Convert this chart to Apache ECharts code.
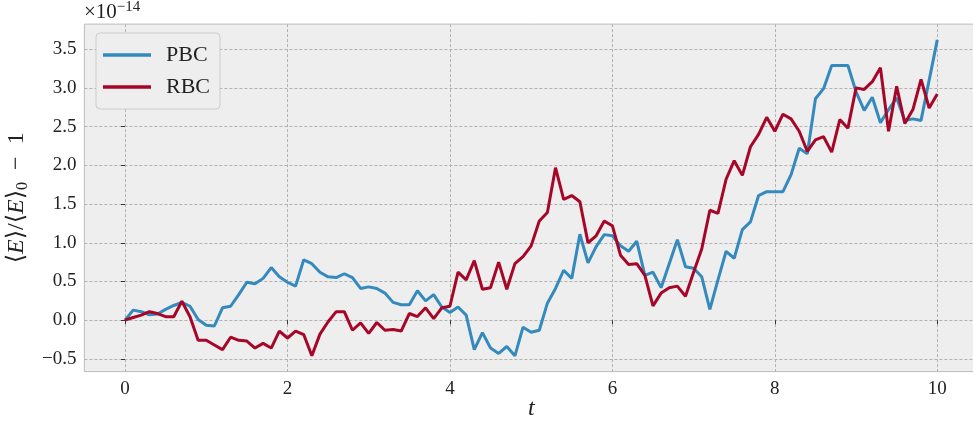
<!DOCTYPE html>
<html>
<head>
<meta charset="utf-8">
<script src="https://cdn.jsdelivr.net/npm/echarts@6/dist/echarts.min.js"></script>
<style>
  html, body { margin: 0; padding: 0; background: #fff; }
  #chart { width: 973px; height: 421px; }
</style>
</head>
<body>
<div id="chart"></div>
<script>
// time grid, t = 0 ... 10
var t = [
  0.0, 0.1, 0.2, 0.3, 0.4, 0.5, 0.6, 0.7, 0.8, 0.9,
  1.0, 1.1, 1.2, 1.3, 1.4, 1.5, 1.6, 1.7, 1.8, 1.9,
  2.0, 2.1, 2.2, 2.3, 2.4, 2.5, 2.6, 2.7, 2.8, 2.9,
  3.0, 3.1, 3.2, 3.3, 3.4, 3.5, 3.6, 3.7, 3.8, 3.9,
  4.0, 4.1, 4.2, 4.3, 4.4, 4.5, 4.6, 4.7, 4.8, 4.9,
  5.0, 5.1, 5.2, 5.3, 5.4, 5.5, 5.6, 5.7, 5.8, 5.9,
  6.0, 6.1, 6.2, 6.3, 6.4, 6.5, 6.6, 6.7, 6.8, 6.9,
  7.0, 7.1, 7.2, 7.3, 7.4, 7.5, 7.6, 7.7, 7.8, 7.9,
  8.0, 8.1, 8.2, 8.3, 8.4, 8.5, 8.6, 8.7, 8.8, 8.9,
  9.0, 9.1, 9.2, 9.3, 9.4, 9.5, 9.6, 9.7, 9.8, 9.9,
  10.0
]

// relative energy drift, in units of 1e-14
var pbc = [
  0, 0.13, 0.11, 0.07, 0.08, 0.14, 0.19, 0.23, 0.18, 0.01,
  -0.065, -0.075, 0.16, 0.18, 0.33, 0.49, 0.47, 0.54, 0.68, 0.56,
  0.49, 0.44, 0.78, 0.73, 0.62, 0.56, 0.55, 0.60, 0.55, 0.41,
  0.43, 0.41, 0.35, 0.23, 0.20, 0.20, 0.38, 0.25, 0.33, 0.17,
  0.10, 0.17, 0.065, -0.38, -0.16, -0.36, -0.43, -0.34, -0.46, -0.09,
  -0.155, -0.13, 0.22, 0.41, 0.645, 0.54, 1.11, 0.74, 0.95, 1.105,
  1.09, 0.96, 0.89, 1.02, 0.58, 0.62, 0.42, 0.73, 1.04, 0.69,
  0.67, 0.56, 0.14, 0.52, 0.89, 0.80, 1.17, 1.27, 1.61, 1.66,
  1.66, 1.66, 1.88, 2.22, 2.15, 2.86, 2.99, 3.29, 3.29, 3.29,
  2.95, 2.71, 2.88, 2.55, 2.72, 2.87, 2.58, 2.60, 2.58, 3.10,
  3.62
]

var rbc = [
  0, 0.035, 0.065, 0.11, 0.086, 0.045, 0.045, 0.245, 0.045, -0.26,
  -0.26, -0.32, -0.38, -0.22, -0.26, -0.27, -0.36, -0.30, -0.36, -0.14,
  -0.23, -0.14, -0.185, -0.46, -0.18, -0.02, 0.11, 0.11, -0.13, -0.035,
  -0.17, -0.03, -0.13, -0.12, -0.14, 0.086, 0.047, 0.16, 0.02, 0.16,
  0.18, 0.62, 0.52, 0.77, 0.40, 0.42, 0.75, 0.40, 0.73, 0.82,
  0.96, 1.28, 1.39, 1.97, 1.56, 1.61, 1.53, 1.00, 1.09, 1.28,
  1.22, 0.84, 0.72, 0.73, 0.58, 0.185, 0.35, 0.42, 0.44, 0.31,
  0.62, 0.92, 1.42, 1.38, 1.82, 2.06, 1.87, 2.24, 2.40, 2.62,
  2.44, 2.66, 2.60, 2.44, 2.18, 2.33, 2.37, 2.17, 2.59, 2.48,
  3.00, 2.98, 3.08, 3.26, 2.44, 3.02, 2.54, 2.72, 3.11, 2.74,
  2.92
]

var xTicks = [0, 2, 4, 6, 8, 10]
var yTicks = [-0.5, 0, 0.5, 1, 1.5, 2, 2.5, 3, 3.5]

var serif = '"Liberation Serif", "DejaVu Serif", serif'

function pairs (ys) {
  return t.map(function (v, i) { return [v, ys[i]] })
}

var chart = echarts.init(document.getElementById('chart'))

chart.setOption({
  animation: false,
  textStyle: { fontFamily: serif, color: '#222' },
  grid: {
    left: 84.4,
    right: -4.9,
    top: 24.1,
    bottom: 49.4,
    containLabel: false,
    outerBoundsMode: 'none',
    show: true,
    backgroundColor: '#eeeeee',
    borderColor: '#bcbcbc',
    borderWidth: 1
  },
  xAxis: {
    type: 'value',
    min: -0.5,
    max: 10.5,
    splitNumber: 5,
    axisLine: { show: false },
    axisTick: { show: true, customValues: xTicks, length: 4, inside: false, lineStyle: { color: '#333', width: 1 } },
    axisLabel: {
      customValues: xTicks,
      margin: 8,
      fontFamily: serif,
      fontSize: 19,
      color: '#222'
    },
    splitLine: { show: true, lineStyle: { color: '#b2b2b2', type: [3, 2], width: 1 } }
  },
  yAxis: {
    type: 'value',
    min: -0.664,
    max: 3.824,
    splitNumber: 9,
    name: '{n|⟨}{i|E}{n|⟩/⟨}{i|E}{n|⟩}{s|0}{n|  −  1}',
    nameLocation: 'middle',
    nameGap: 52,
    nameTextStyle: {
      fontFamily: serif,
      fontSize: 24,
      color: '#222',
      rich: {
        n: { fontFamily: serif, fontSize: 24, color: '#222' },
        i: { fontFamily: serif, fontSize: 24, fontStyle: 'italic', color: '#222' },
        s: { fontFamily: serif, fontSize: 16, color: '#222', padding: [12, 0, 0, 0] }
      }
    },
    axisLine: { show: false },
    axisTick: { show: true, customValues: yTicks, length: 4, inside: false, lineStyle: { color: '#333', width: 1 } },
    axisLabel: {
      customValues: yTicks,
      margin: 8,
      fontFamily: serif,
      fontSize: 19,
      color: '#222',
      formatter: function (v) {
        var s = v.toFixed(1)
        return v < 0 ? '−' + s.slice(1) : s
      }
    },
    splitLine: { show: true, lineStyle: { color: '#b2b2b2', type: [3, 2], width: 1 } }
  },
  legend: {
    orient: 'vertical',
    left: 96,
    top: 33,
    padding: [11, 10, 11, 7],
    itemGap: 10,
    itemWidth: 48,
    itemHeight: 3.5,
    icon: 'rect',
    backgroundColor: '#eeeeee',
    borderColor: '#cccccc',
    borderWidth: 1,
    borderRadius: 4,
    textStyle: { fontFamily: serif, fontSize: 22, color: '#222', padding: [0, 0, 0, 10] },
    data: ['PBC', 'RBC']
  },
  graphic: [
    {
      type: 'text',
      left: 84,
      top: 0,
      style: {
        text: '×10{sup|−14}',
        fontFamily: serif,
        fontSize: 21,
        fill: '#222',
        rich: {
          sup: { fontFamily: serif, fontSize: 15, fill: '#222', padding: [0, 0, 10, 0] }
        }
      }
    },
    {
      type: 'text',
      left: 528,
      top: 397,
      style: {
        text: 't',
        fontFamily: serif,
        fontSize: 24,
        fontStyle: 'italic',
        fill: '#222'
      }
    }
  ],
  series: [
    {
      name: 'PBC',
      type: 'line',
      data: pairs(pbc),
      showSymbol: false,
      clip: false,
      color: '#348ABD',
      lineStyle: { width: 3, color: '#348ABD' }
    },
    {
      name: 'RBC',
      type: 'line',
      data: pairs(rbc),
      showSymbol: false,
      clip: false,
      color: '#A60628',
      lineStyle: { width: 3, color: '#A60628' }
    }
  ]
})
</script>
</body>
</html>
